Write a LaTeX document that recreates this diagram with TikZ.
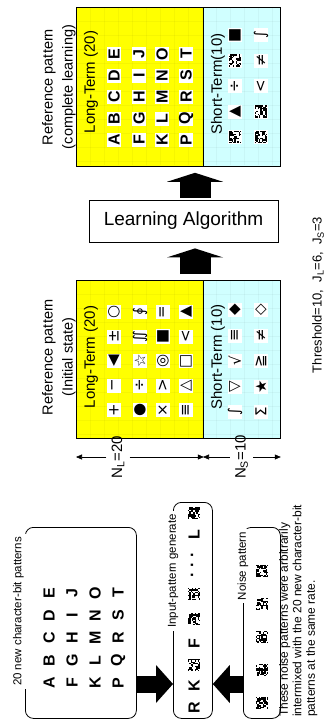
\documentclass[tikz,border=0pt]{standalone}
\usepackage{fontspec}
\setmainfont{Liberation Sans}
\newfontfamily\symfont{DejaVu Sans}
\usetikzlibrary{arrows.meta}

\definecolor{ltyellow}{RGB}{255,255,0}
\definecolor{stcyan}{RGB}{208,255,255}

\tikzset{
  patbox/.style={draw, line width=0.8pt, anchor=north west, inner sep=0pt},
  gridline/.style={draw=black, opacity=0.035, line width=0.5pt},
  glyph/.style={rotate=90, fill=white, inner sep=0pt, minimum size=14pt,
    font=\fontsize{16}{16}\selectfont\bfseries},
  sym/.style={glyph, font=\symfont\fontsize{15}{15}\selectfont},
  vlabel/.style={rotate=90, align=center, inner sep=1pt},
  roundbox/.style={draw, line width=0.8pt, rounded corners=8pt, anchor=north west, inner sep=0pt},
  boxtitle/.style={rotate=90, fill=white, inner sep=3pt, font=\fontsize{11.5}{13}\selectfont},
  bigarrow/.style={line width=31pt, -{Triangle[width=56pt,length=9pt,line width=0pt]}},
  feedarrow/.style={line width=17pt, -{Triangle[width=38pt,length=17pt,line width=0pt]}},
  dimline/.style={line width=0.6pt, -{Triangle[width=5pt,length=6pt]}},
  noise/.pic={
    \fill[white] (-7,-7) rectangle (7,7);
    \foreach \i in {0,...,8}
      \foreach \j in {0,...,8}{
        \pgfmathrandominteger{\nbit}{0}{9}
        \ifnum\nbit<6 \fill (-6.3+1.4*\i,-6.3+1.4*\j) rectangle ++(1.4,1.4);\fi
      }
  }
}

\begin{document}
\begin{tikzpicture}[x=1pt,y=-1pt]
  \pgfmathsetseed{20}
  \fill[white] (0,0) rectangle (334,720);
  \useasboundingbox (0,0) rectangle (334,720);

  % reference pattern, complete learning (top) and initial state (bottom)
  \node[patbox, fill=ltyellow, minimum width=127pt, minimum height=159pt] (doneLT) at (76,7) {};
  \node[patbox, fill=stcyan, minimum width=77pt, minimum height=159pt] (doneST) at (203,7) {};
  \node[patbox, fill=ltyellow, minimum width=127pt, minimum height=158pt] (initLT) at (76,280) {};
  \node[patbox, fill=stcyan, minimum width=77pt, minimum height=158pt] (initST) at (203,280) {};
  \foreach \ytop in {7,280}{
    \foreach \gx in {90,104,...,272} \draw[gridline] (\gx,\ytop) -- ++(0,158);
    \foreach \gy in {14,28,...,154} \draw[gridline] (76,\ytop+\gy) -- (280,\ytop+\gy);
  }

  \node[vlabel, font=\fontsize{14.5}{20}\selectfont] (doneTitle) at (59,87) {Reference pattern\\(complete learning)};
  \node[vlabel, font=\fontsize{14.5}{20}\selectfont] (initTitle) at (59,357) {Reference pattern\\(Initial state)};
  \node[vlabel, font=\fontsize{15}{15}\selectfont] (doneLTname) at (91,82) {Long-Term (20)};
  \node[vlabel, font=\fontsize{15}{15}\selectfont] (doneSTname) at (218,84) {Short-Term(10)};
  \node[vlabel, font=\fontsize{15}{15}\selectfont] (initLTname) at (91,357) {Long-Term (20)};
  \node[vlabel, font=\fontsize{15}{15}\selectfont] (initSTname) at (218,357) {Short-Term (10)};

  \foreach \gx/\row in {114/{A,B,C,D,E},139/{F,G,H,I,J},162/{K,L,M,N,O},186/{P,Q,R,S,T}}
    \foreach \ch [count=\i from 0] in \row
      \node[glyph] (done-\ch) at (\gx,{140-21.5*\i}) {\ch};
  \foreach \gx/\gi in {235/0,235/3,261/0,261/1}
    \pic at (\gx,{137-25.5*\gi}) {noise};
  \foreach \gx/\gi/\s in {235/1/▲,235/2/÷,235/4/■,261/2/<,261/3/≠,261/4/∫}
    \node[sym] (done-\gx-\gi) at (\gx,{137-25.5*\gi}) {\s};

  \foreach \gx/\row in {114/{+,−,◀,±,○},140/{●,÷,☆,∬,∮},163/{×,>,◎,■,=},186/{≡,△,□,<,▲}}
    \foreach \s [count=\i from 0] in \row
      \node[sym] (init-\gx-\i) at (\gx,{410-24.5*\i}) {\s};
  \foreach \gx/\row in {235/{∫,▽,√,≡,◆},261/{Σ,★,≧,≠,◇}}
    \foreach \s [count=\i from 0] in \row
      \node[sym] (init-\gx-\i) at (\gx,{412-25.5*\i}) {\s};

  % learning step
  \node[draw, line width=0.8pt, minimum width=189pt, minimum height=42pt,
    font=\fontsize{19}{19}\selectfont] (learn) at (183.5,221) {Learning Algorithm};
  \coordinate (ax) at (195,0);
  \draw[bigarrow, shorten <=2pt, shorten >=6pt] (learn.north -| ax) -- (doneLT.south -| ax);
  \draw[bigarrow, shorten <=6pt, shorten >=6pt] (initLT.north -| ax) -- (learn.south -| ax);

  % sizes of the two parts
  \node[rotate=90, inner sep=5pt, font=\fontsize{15}{15}\selectfont] (nL) at (118,457) {N\textsubscript{L}=20};
  \node[rotate=90, inner sep=5pt, font=\fontsize{15}{15}\selectfont] (nS) at (241.5,457) {N\textsubscript{S}=10};
  \draw[dimline] (nL) -- (initLT.south west |- nL);
  \draw[dimline] (nL) -- (initLT.south east |- nL);
  \draw[dimline] (nS) -- (initST.south west |- nS);
  \draw[dimline] (nS) -- (initST.south east |- nS);

  % input side
  \node[roundbox, minimum width=111pt, minimum height=191pt] (newbox) at (25,527) {};
  \node[roundbox, minimum width=39pt, minimum height=216pt] (inbox) at (173,502) {};
  \node[roundbox, minimum width=37pt, minimum height=191pt] (noisebox) at (243,527) {};
  \node[boxtitle] (newTitle) at (18.5,611.5) {20 new character-bit patterns};
  \node[boxtitle] (inTitle) at (173,571) {Input-pattern generate};
  \node[boxtitle] (noiseTitle) at (243,566) {Noise pattern};

  \foreach \gx/\row in {49/{A,B,C,D,E},72/{F,G,H,I,J},95/{K,L,M,N,O},118/{P,Q,R,S,T}}
    \foreach \ch [count=\i from 0] in \row
      \node[glyph] (new-\ch) at (\gx,{683-22.5*\i}) {\ch};

  \foreach \ch/\gy in {R/708,K/686,F/644,L/535}
    \node[glyph] (in-\ch) at (194,\gy) {\ch};
  \foreach \gy in {665,619,594,513}
    \pic at (194,\gy) {noise};
  \node[rotate=90, inner sep=0pt, font=\fontsize{16}{16}\selectfont\bfseries] (inDots) at (194,565)
    {·\hspace{5pt}·\hspace{5pt}·};

  \foreach \gy in {703,670,637,604,571}
    \pic at (262,\gy) {noise};

  \coordinate (feed) at (0,684);
  \draw[feedarrow] (newbox.east |- feed) -- (inbox.west |- feed);
  \draw[feedarrow] (noisebox.west |- feed) -- (inbox.east |- feed);

  \node[rotate=90, anchor=north west, align=left, inner sep=0pt,
    font=\fontsize{12}{13.5}\selectfont] (note) at (279,717)
    {These noise patterns were arbitrarily\\intermixed with the 20 new character-bit\\patterns at the same rate.};
  \node[rotate=90, font=\fontsize{13}{15}\selectfont] (thresh) at (318,295)
    {Threshold=10,\ \ J\textsubscript{L}=6,\ \ J\textsubscript{S}=3};
\end{tikzpicture}
\end{document}
